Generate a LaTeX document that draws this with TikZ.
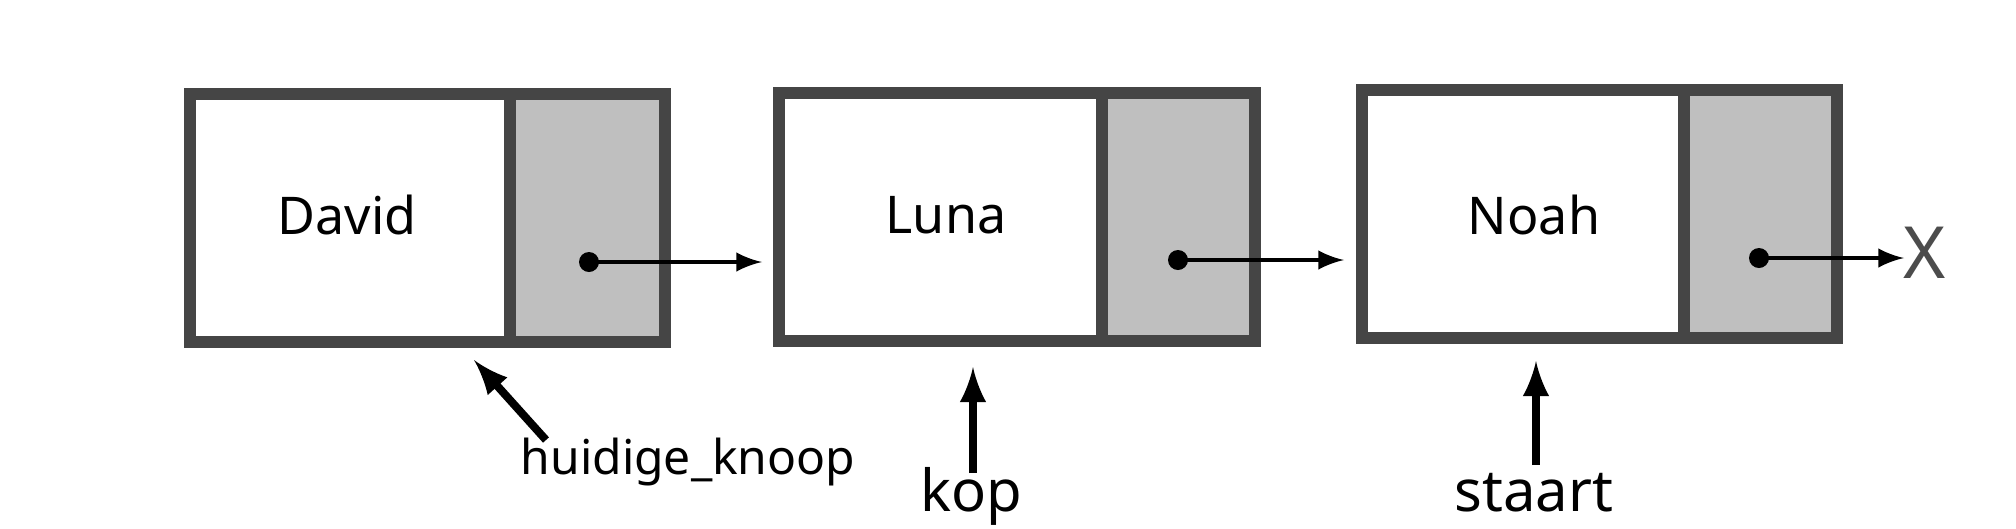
\documentclass[tikz,border=0pt]{standalone}
\usepackage{fontspec}
\setmainfont{Noto Sans}
\begin{document}
\begin{tikzpicture}[x=0.25pt,y=-0.25pt,
  box/.style={draw=black!73,line width=3pt},
  ptr/.style={draw=black!73,line width=3pt,fill=black!25},
  lnk/.style={-latex,line width=1.2pt},
  up/.style={-latex,line width=2pt},
  nm/.style={font=\fontsize{13}{15}\selectfont}]
\useasboundingbox (0,0) rectangle (2016,528);
\fill[white] (0,0) rectangle (2016,528);
% node 1
\draw[box,fill=white] (190,94) rectangle (510,342);
\draw[ptr] (510,94) rectangle (665,342);
\node[nm] (d) at (347,215) {David};
% node 2
\draw[box,fill=white] (779,93) rectangle (1102,341);
\draw[ptr] (1102,93) rectangle (1255,341);
\node[nm] (l) at (946,215) {Luna};
% node 3
\draw[box,fill=white] (1362,90) rectangle (1684,338);
\draw[ptr] (1684,90) rectangle (1837,338);
\node[nm] (n) at (1534,215) {Noah};
% pointers
\fill (589,262) circle (10) coordinate (p1);
\coordinate (e1) at (762,262);
\draw[lnk] (p1) -- (e1);
\fill (1178,260) circle (10) coordinate (p2);
\coordinate (e2) at (1344,260);
\draw[lnk] (p2) -- (e2);
\fill (1759,258) circle (10) coordinate (p3);
\node[font=\fontsize{18}{20}\selectfont,text=black!70,inner sep=1pt] (x) at (1925,253) {X};
\coordinate (e3) at (1904,258);
\draw[lnk] (p3) -- (e3);
% labels
\node[font=\fontsize{12}{14}\selectfont] (h) at (688,462) {huidige\_knoop};
\coordinate (h1) at (546,440); \coordinate (h2) at (474,360);
\draw[up] (h1) -- (h2);
\node[font=\fontsize{14.5}{16}\selectfont] (k) at (971,496) {kop};
\coordinate (k1) at (973,473); \coordinate (k2) at (973,367);
\draw[up] (k1) -- (k2);
\node[font=\fontsize{14.5}{16}\selectfont] (s) at (1534,493) {staart};
\coordinate (s1) at (1536,465); \coordinate (s2) at (1536,361);
\draw[up] (s1) -- (s2);
\end{tikzpicture}
\end{document}
